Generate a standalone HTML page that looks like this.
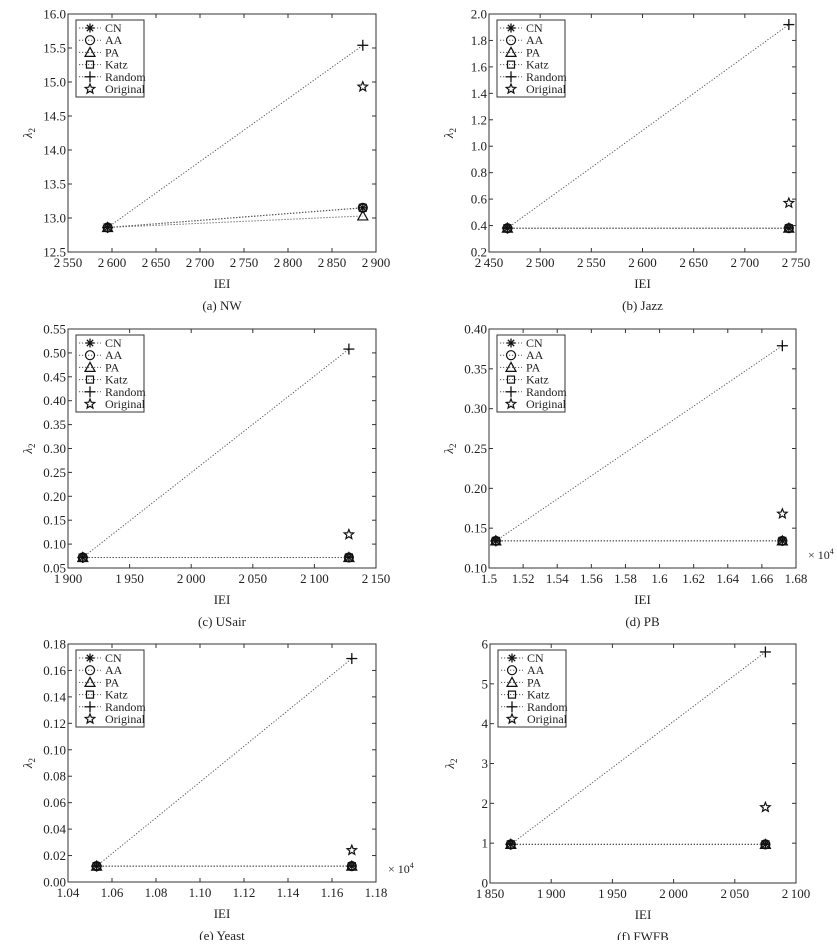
<!DOCTYPE html>
<html><head><meta charset="utf-8"><style>
body{margin:0;background:#fff}
svg text{font-family:"Liberation Serif",serif;fill:#222}
</style></head><body>
<svg id="fig" width="837" height="940" xmlns="http://www.w3.org/2000/svg"></svg>
<script>
// Panel data
const panelNames = ["NW","Jazz","USair","PB","Yeast","FWFB"];
const panelLetters = ["a","b","c","d","e","f"];
const seriesNames = ["CN","AA","PA","Katz","Random","Original"];
const xValues = [[2595,2885],[2468,2743],[1912,2128],[1.504,1.672],[1.053,1.169],[1867,2075]];
const cnValues = [[12.86,13.15],[0.38,0.38],[0.072,0.072],[0.134,0.134],[0.012,0.012],[0.97,0.97]];
const aaValues = [[12.86,13.15],[0.38,0.38],[0.072,0.072],[0.134,0.134],[0.012,0.012],[0.97,0.97]];
const paValues = [[12.86,13.03],[0.38,0.38],[0.072,0.072],[0.134,0.134],[0.012,0.012],[0.97,0.97]];
const katzValues = [[12.86,13.15],[0.38,0.38],[0.072,0.072],[0.134,0.134],[0.012,0.012],[0.97,0.97]];
const randomValues = [[12.86,15.54],[0.38,1.92],[0.072,0.508],[0.134,0.379],[0.012,0.169],[0.97,5.8]];
const originalValues = [14.93,0.57,0.12,0.168,0.024,1.9];
const xDomains = [[2550,2900],[2450,2750],[1900,2150],[1.5,1.68],[1.04,1.18],[1850,2100]];
const xTickStep = [50,50,50,0.02,0.02,50];
const yDomains = [[12.5,16],[0.2,2.0],[0.05,0.55],[0.10,0.40],[0,0.18],[0,6]];
const yTickStep = [0.5,0.2,0.05,0.05,0.02,1];
const yDecimals = [1,1,2,2,2,0];
const xDecimalsArr = [0,0,0,2,2,0];
const xScaleNote = [false,false,false,true,true,false];

const svg = document.getElementById('fig');
const NS = "http://www.w3.org/2000/svg";
function mk(tag, attrs, parent){const e=document.createElementNS(NS,tag);for(const k in attrs)e.setAttribute(k,attrs[k]);(parent||svg).appendChild(e);return e;}
function fmtX(v,d){ if(d===0){const s=String(Math.round(v));return s.length>3?s.slice(0,s.length-3)+"\u2009"+s.slice(-3):s;} let s=v.toFixed(d); if(v.toFixed(2)==="1.60")s="1.6"; if(v.toFixed(2)==="1.50")s="1.5"; return s;}
const boxes = [[68,376,14,252],[489,796,14,252],[68,376,329,568],[489,796,329,568],[68,376,644,882],[490,796,644,883]];

function marker(g,type,cx,cy){
  const s=4.5;
  if(type===0){for(let a=0;a<4;a++){const t=a*Math.PI/4;mk('line',{x1:cx-s*Math.cos(t),y1:cy-s*Math.sin(t),x2:cx+s*Math.cos(t),y2:cy+s*Math.sin(t),stroke:'#111','stroke-width':1.3},g);}}
  else if(type===1){mk('circle',{cx:cx,cy:cy,r:s,fill:'none',stroke:'#111','stroke-width':1.2},g);}
  else if(type===2){mk('polygon',{points:`${cx},${cy-s-0.5} ${cx-s-0.5},${cy+s-0.5} ${cx+s+0.5},${cy+s-0.5}`,fill:'none',stroke:'#111','stroke-width':1.2},g);}
  else if(type===3){mk('rect',{x:cx-3.5,y:cy-3.5,width:7,height:7,fill:'none',stroke:'#111','stroke-width':1.2},g);}
  else if(type===4){mk('line',{x1:cx-s-1,y1:cy,x2:cx+s+1,y2:cy,stroke:'#111','stroke-width':1.3},g);mk('line',{x1:cx,y1:cy-s-1,x2:cx,y2:cy+s+1,stroke:'#111','stroke-width':1.3},g);}
  else {let p=[];for(let i=0;i<10;i++){const r=i%2?2.2:5;const t=-Math.PI/2+i*Math.PI/5;p.push((cx+r*Math.cos(t)).toFixed(2)+","+(cy+r*Math.sin(t)).toFixed(2));}mk('polygon',{points:p.join(' '),fill:'none',stroke:'#111','stroke-width':1.2},g);}
}

for(let p=0;p<6;p++){
  const [L,R,T,B]=boxes[p];
  const g=mk('g',{});
  
  
  const [x0,x1]=xDomains[p],[y0,y1]=yDomains[p];
  const sx=v=>L+(v-x0)/(x1-x0)*(R-L);
  const sy=v=>B-(v-y0)/(y1-y0)*(B-T);
  const frame=mk('rect',{x:L,y:T,width:R-L,height:B-T,fill:'none',stroke:'#333','stroke-width':1},g);
  
  
  // x ticks
  const nx=Math.round((x1-x0)/xTickStep[p]);
  for(let i=0;i<=nx;i++){const v=x0+i*xTickStep[p];const X=sx(v);
    mk('line',{x1:X,y1:B,x2:X,y2:B-4,stroke:'#333'},g);mk('line',{x1:X,y1:T,x2:X,y2:T+4,stroke:'#333'},g);
    const t=mk('text',{x:X,y:B+15,'font-size':13,'text-anchor':'middle'},g);t.textContent=fmtX(v,xDecimalsArr[p]);
    
    }
  const ny=Math.round((y1-y0)/yTickStep[p]);
  for(let i=0;i<=ny;i++){const v=y0+i*yTickStep[p];const Y=sy(v);
    mk('line',{x1:L,y1:Y,x2:L+4,y2:Y,stroke:'#333'},g);mk('line',{x1:R,y1:Y,x2:R-4,y2:Y,stroke:'#333'},g);
    const t=mk('text',{x:L-2,y:Y+4.5,'font-size':13,'text-anchor':'end'},g);t.textContent=v.toFixed(yDecimals[p]);
    
    }
  const xt=mk('text',{x:(L+R)/2,y:B+36,'font-size':13,'text-anchor':'middle'},g);xt.textContent="IEI";
  
  
  const yx=L-36,yy=(T+B)/2;
  const yt=mk('text',{x:yx,y:yy,'font-size':13,'text-anchor':'middle',transform:`rotate(-90 ${yx} ${yy})`,'font-style':'italic'},g);
  yt.innerHTML='λ<tspan font-size="9" dy="3" font-style="normal">2</tspan>';
  
  
  const cap=mk('text',{x:(L+R)/2,y:B+58,'font-size':13,'text-anchor':'middle'},g);cap.textContent=`(${panelLetters[p]}) ${panelNames[p]}`;
  
  
  if(xScaleNote[p]){const n=mk('text',{x:R+12,y:B-9,'font-size':12,'text-anchor':'start',fill:'#555'},g);n.innerHTML='× 10<tspan font-size="8" dy="-5">4</tspan>';
    
    }
  // series
  const ser=[cnValues[p],aaValues[p],paValues[p],katzValues[p],randomValues[p]];
  for(let s=4;s>=0;s--){const v=ser[s];
    const ln=mk('line',{x1:sx(xValues[p][0]),y1:sy(v[0]),x2:sx(xValues[p][1]),y2:sy(v[1]),stroke:'#555','stroke-width':1,'stroke-dasharray':'1.2 1.8'},g);
    
    
    for(let k=0;k<2;k++)marker(g,s,sx(xValues[p][k]),sy(v[k]));}
  marker(g,5,sx(xValues[p][1]),sy(originalValues[p]));
  // legend
  const lg=mk('g',{},g);
  
  
  const lx=L+8,ly=T+6;
  mk('rect',{x:lx,y:ly,width:68,height:77,fill:'#fff',stroke:'#333','stroke-width':1},lg);
  for(let s=0;s<6;s++){const Y=ly+8+s*12.2;
    if(s<5)mk('line',{x1:lx+3,y1:Y,x2:lx+25,y2:Y,stroke:'#555','stroke-dasharray':'1.2 1.8'},lg);
    marker(lg,s,lx+14,Y);
    const t=mk('text',{x:lx+29,y:Y+4,'font-size':12},lg);t.textContent=seriesNames[s];
    
    }
}
</script>
</body></html>
